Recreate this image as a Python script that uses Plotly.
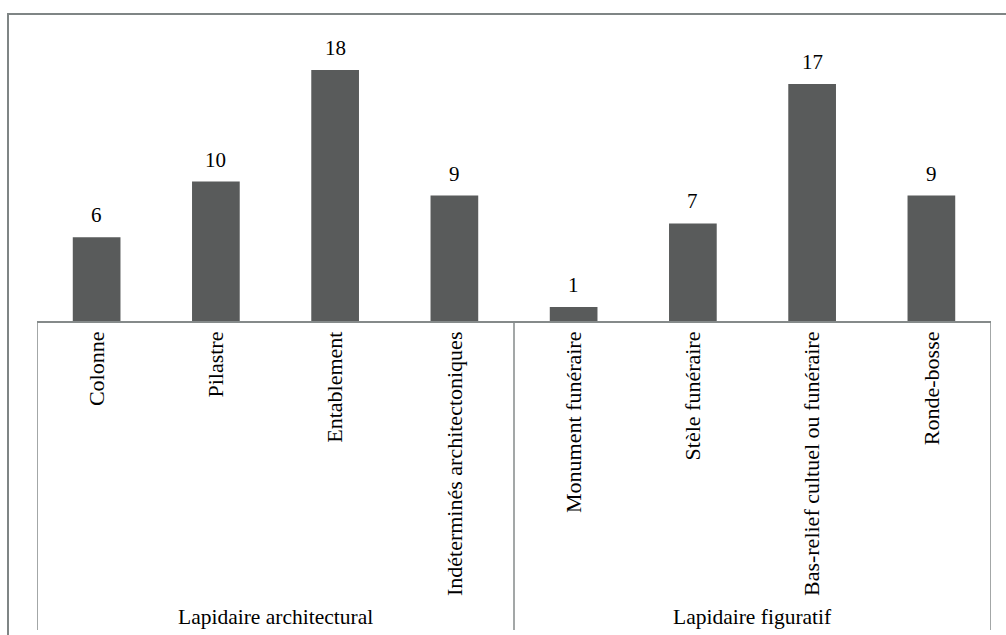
import plotly.graph_objects as go

categories = ["Colonne", "Pilastre", "Entablement", "Indéterminés architectoniques",
              "Monument funéraire", "Stèle funéraire", "Bas-relief cultuel ou funéraire", "Ronde-bosse"]
values = [6, 10, 18, 9, 1, 7, 17, 9]
groups = ["Lapidaire architectural", "Lapidaire figuratif"]
group_sizes = [4, 4]

FONT = "Liberation Serif, Times New Roman, serif"
BAR = "#595B5B"
LINE = "#858A8A"

fig = go.Figure(go.Bar(
    x=categories, y=values,
    marker=dict(color=BAR, line=dict(width=0)),
    width=0.4,
))

W, H = 1006, 635
L, R, T, B = 37, 15, 30, 314
plot_h = H - T - B

def py(px):
    return (H - B - px) / plot_h

def pxx(px):
    return (px - L) / (W - L - R)

shapes = []
# outer frame
shapes.append(dict(type="rect", xref="paper", yref="paper",
                   x0=pxx(8), x1=pxx(1030), y0=py(660), y1=py(14),
                   line=dict(color="#7F8585", width=2), layer="below"))
# group dividers
pos = -0.5
bounds = [pos]
for s in group_sizes:
    pos += s
    bounds.append(pos)
for b in bounds:
    shapes.append(dict(type="line", xref="x", yref="paper", x0=b, x1=b,
                       y0=0, y1=py(630), line=dict(color=LINE, width=1.5)))

annotations = []
# value labels
for c, v in zip(categories, values):
    annotations.append(dict(x=c, y=v, xref="x", yref="y", text=str(v), showarrow=False,
                            yanchor="bottom", yshift=8,
                            font=dict(family=FONT, size=21, color="black")))
start = -0.5
for g, s in zip(groups, group_sizes):
    annotations.append(dict(x=start + s / 2, y=py(617), xref="x", yref="paper",
                            text=g, showarrow=False, yanchor="middle",
                            font=dict(family=FONT, size=21.5, color="black")))
    start += s

fig.update_layout(
    width=W, height=H,
    margin=dict(l=L, r=R, t=T, b=B, autoexpand=False),
    paper_bgcolor="white", plot_bgcolor="white",
    showlegend=False,
    shapes=shapes, annotations=annotations,
    xaxis=dict(type="category", tickangle=-90, showline=True, linecolor=LINE, linewidth=1.5,
               showgrid=False, ticks="", range=[-0.5, 7.5], ticklabelstandoff=0,
               tickfont=dict(family=FONT, size=22, color="black")),
    yaxis=dict(range=[0, 291 / 13.94], visible=False, showgrid=False),
)

fig.write_html("out.html", config={"displayModeBar": False},
               post_script="document.body.style.margin='0';")
